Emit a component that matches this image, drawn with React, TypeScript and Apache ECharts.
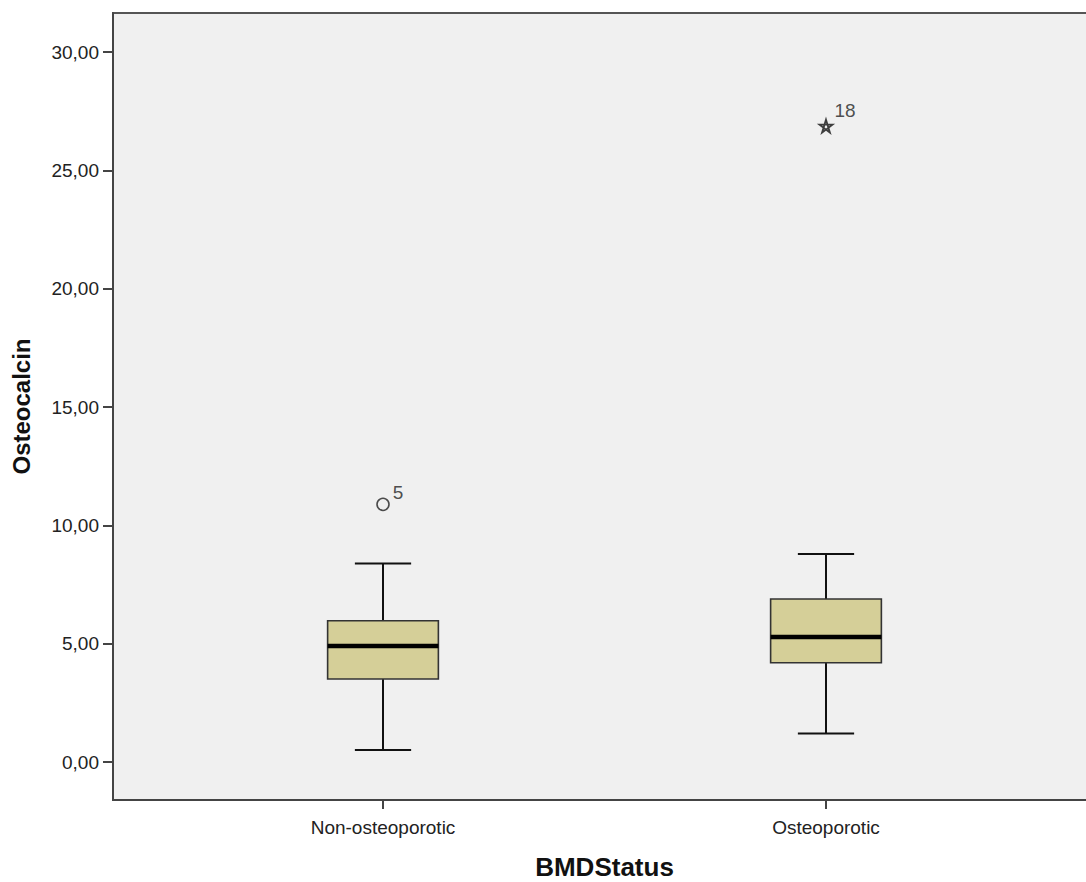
import React, { useEffect, useRef } from "react";
import * as echarts from "echarts";

const categories = ["Non-osteoporotic", "Osteoporotic"];
const whiskerLow = [0.51, 1.21];
const quartile1 = [3.51, 4.2];
const medians = [4.91, 5.29];
const quartile3 = [5.97, 6.89];
const whiskerHigh = [8.39, 8.79];

const outlierGroup = [1];
const outlierValues = [10.89];
const outlierCases = ["5"];

const extremeGroup = [2];
const extremeValues = [26.87];
const extremeCases = ["18"];

const yTicks = [0, 5, 10, 15, 20, 25, 30];

const BOX_W = 0.25;
const CAP_W = 0.127;
const FONT = "'Liberation Sans', Arial, sans-serif";

export default function App() {
  const ref = useRef<HTMLDivElement>(null);
  useEffect(() => {
    if (!ref.current) return;
    const chart = echarts.init(ref.current, null, { renderer: "svg" });
    const boxData = categories.map((_, i) => [
      i + 1,
      whiskerLow[i],
      quartile1[i],
      medians[i],
      quartile3[i],
      whiskerHigh[i],
    ]);
    const lineStyle = { stroke: "#111", lineWidth: 2 };
    chart.setOption({
      animation: false,
      backgroundColor: "#ffffff",
      grid: {
        left: 113,
        top: 13,
        width: 983,
        height: 787,
        containLabel: false,
        outerBoundsMode: "none",
        show: true,
        backgroundColor: "#f0f0f0",
        borderColor: "#555",
        borderWidth: 2,
      },
      xAxis: {
        type: "value",
        min: 0.3905,
        max: 2.6095,
        name: "BMDStatus",
        nameLocation: "middle",
        nameGap: 54,
        nameTextStyle: { fontFamily: FONT, fontSize: 26, fontWeight: "bold", color: "#111" },
        axisLine: { show: true, onZero: false, lineStyle: { color: "#444", width: 2 } },
        axisTick: { show: true, length: 9, customValues: [1, 2], lineStyle: { color: "#444", width: 2 } },
        axisLabel: {
          customValues: [1, 2],
          margin: 18,
          fontFamily: FONT,
          fontSize: 19,
          color: "#222",
          formatter: (v: number) => categories[Math.round(v) - 1] ?? "",
        },
        splitLine: { show: false },
      },
      yAxis: {
        type: "value",
        min: -1.6,
        max: 31.65,
        name: "Osteocalcin",
        nameLocation: "middle",
        nameGap: 80,
        nameTextStyle: { fontFamily: FONT, fontSize: 24, fontWeight: "bold", color: "#111" },
        axisLine: { show: true, onZero: false, lineStyle: { color: "#444", width: 2 } },
        axisTick: { show: true, length: 10, customValues: yTicks, lineStyle: { color: "#444", width: 2 } },
        axisLabel: {
          customValues: yTicks,
          margin: 14,
          fontFamily: FONT,
          fontSize: 19,
          color: "#222",
          formatter: (v: number) => v.toFixed(2).replace(".", ","),
        },
        splitLine: { show: false },
      },
      series: [
        {
          type: "custom",
          data: boxData,
          encode: { x: 0, y: [1, 2, 3, 4, 5] },
          renderItem: (params: any, api: any) => {
            const x = api.value(0);
            const pLow = api.coord([x, api.value(1)]);
            const pQ1 = api.coord([x, api.value(2)]);
            const pMed = api.coord([x, api.value(3)]);
            const pQ3 = api.coord([x, api.value(4)]);
            const pHigh = api.coord([x, api.value(5)]);
            const half = api.size([BOX_W, 0])[0] / 2;
            const capHalf = api.size([CAP_W, 0])[0] / 2;
            const cx = pMed[0];
            return {
              type: "group",
              children: [
                { type: "line", shape: { x1: cx, y1: pHigh[1], x2: cx, y2: pQ3[1] }, style: lineStyle },
                { type: "line", shape: { x1: cx, y1: pQ1[1], x2: cx, y2: pLow[1] }, style: lineStyle },
                { type: "line", shape: { x1: cx - capHalf, y1: pHigh[1], x2: cx + capHalf, y2: pHigh[1] }, style: lineStyle },
                { type: "line", shape: { x1: cx - capHalf, y1: pLow[1], x2: cx + capHalf, y2: pLow[1] }, style: lineStyle },
                {
                  type: "rect",
                  shape: { x: cx - half, y: pQ3[1], width: half * 2, height: pQ1[1] - pQ3[1] },
                  style: { fill: "#d5cf98", stroke: "#333", lineWidth: 1.6 },
                },
                { type: "line", shape: { x1: cx - half, y1: pMed[1], x2: cx + half, y2: pMed[1] }, style: { stroke: "#000", lineWidth: 4.5 } },
              ],
            };
          },
          z: 2,
        },
        {
          type: "scatter",
          data: outlierValues.map((v, i) => [outlierGroup[i], v, outlierCases[i]]),
          symbol: "circle",
          symbolSize: 12,
          itemStyle: { color: "rgba(0,0,0,0)", borderColor: "#222", borderWidth: 1.6 },
          label: {
            show: true,
            position: "right",
            distance: 3,
            offset: [0, -12],
            fontFamily: FONT,
            fontSize: 19,
            color: "#222",
            formatter: (p: any) => p.value[2],
          },
          z: 3,
        },
        {
          type: "scatter",
          data: extremeValues.map((v, i) => [extremeGroup[i], v, extremeCases[i]]),
          symbol: "path://M50,0 L79,91 L2,35 L98,35 L21,91 Z",
          symbolSize: 13,
          itemStyle: { color: "rgba(0,0,0,0)", borderColor: "#111", borderWidth: 1.8 },
          label: {
            show: true,
            position: "right",
            distance: 1,
            offset: [0, -16],
            fontFamily: FONT,
            fontSize: 19,
            color: "#222",
            formatter: (p: any) => p.value[2],
          },
          z: 3,
        },
      ],
    });
    return () => chart.dispose();
  }, []);
  return (
    <div
      ref={ref}
      style={{ position: "absolute", left: 0, top: 0, width: 1086, height: 882, background: "#fff" }}
    />
  );
}
